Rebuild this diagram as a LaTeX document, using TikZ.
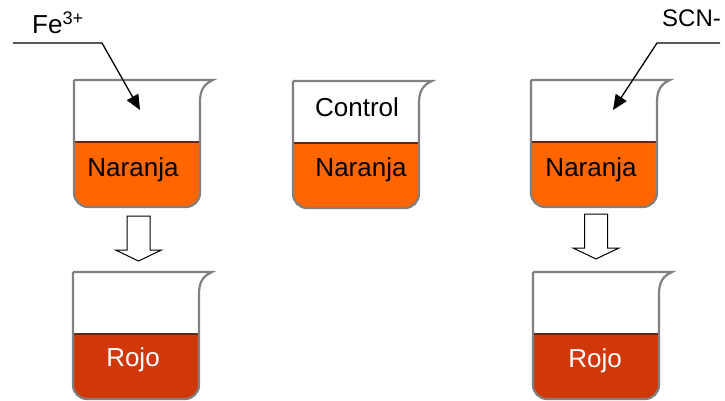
\documentclass[tikz,border=0pt]{standalone}
\usepackage{fontspec}
\setmainfont{Liberation Sans}
\usepackage{tikz}
\usetikzlibrary{arrows.meta}
\definecolor{naranja}{RGB}{255,102,0}
\definecolor{rojo}{RGB}{208,56,8}
\definecolor{pared}{RGB}{128,128,128}
\definecolor{borde}{RGB}{90,40,20}
\tikzstyle{texto} = [anchor=base, inner sep=0pt, font=\fontsize{26}{30}\selectfont]
\tikzstyle{wall} = [draw=pared, line width=2.2pt]
\tikzstyle{flecha} = [line width=1.3pt, -{Triangle[length=15pt,width=13pt]}]
\tikzstyle{bloque} = [draw=black, fill=white, line width=1pt, line join=miter]

% beaker, #1 top left corner, #2 colour of the liquid
\newcommand{\vaso}[2]{
  \begin{scope}[shift={#1}]
    \fill[#2] (0,62) -- (0,113) .. controls (0,120.7) and (6.3,127) .. (14,127) -- (112,127) .. controls (119.7,127) and (126,120.7) .. (126,113) -- (126,62) -- cycle;
    \draw[borde, line width=1.2pt] (0,62) -- (126,62);
    \draw[wall] (0,0) -- (139,0) .. controls (130,4) and (126,10) .. (126,22) -- (126,113) .. controls (126,120.7) and (119.7,127) .. (112,127) -- (14,127) .. controls (6.3,127) and (0,120.7) .. (0,113) -- (0,0);
  \end{scope}}
% block arrow, #1 middle of its top edge
\newcommand{\bajar}[1]{
  \begin{scope}[shift={#1}]
    \draw[bloque] (-11.5,0) -- (11.5,0) -- (11.5,34) -- (23,34) -- (0,45) -- (-23,34) -- (-11.5,34) -- cycle;
  \end{scope}}

\begin{document}
\begin{tikzpicture}[x=1pt, y=-1pt]
  \useasboundingbox (0,0) rectangle (725,401);
  \vaso{(74,80)}{naranja}
  \vaso{(293,81)}{naranja}
  \vaso{(531,80)}{naranja}
  \vaso{(73,272)}{rojo}
  \vaso{(533,272)}{rojo}
  \bajar{(138.5,216)}
  \bajar{(596,214)}

  \node (n1) [texto] at (133,176) {Naranja};
  \node (ctrl) [texto] at (357,117) {Control};
  \node (n2) [texto] at (361,176) {Naranja};
  \node (n3) [texto] at (591,176) {Naranja};
  \node (r1) [texto, text=white] at (133,366) {Rojo};
  \node (r2) [texto, text=white] at (595,367) {Rojo};

  \node (fe) [texto, anchor=base west] at (32,34) {Fe\textsuperscript{3+}};
  \node (scn) [texto, anchor=base west, font=\fontsize{24}{28}\selectfont] at (662,27) {SCN-};
  \coordinate (fe0) at (13,43);
  \coordinate (fe1) at (102,43);
  \coordinate (fein) at (140,110);
  \coordinate (scn0) at (720,43);
  \coordinate (scn1) at (657,43);
  \coordinate (scnin) at (613,110);
  \draw [flecha] (fe0) -- (fe1) -- (fein);
  \draw [flecha] (scn0) -- (scn1) -- (scnin);
\end{tikzpicture}
\end{document}
